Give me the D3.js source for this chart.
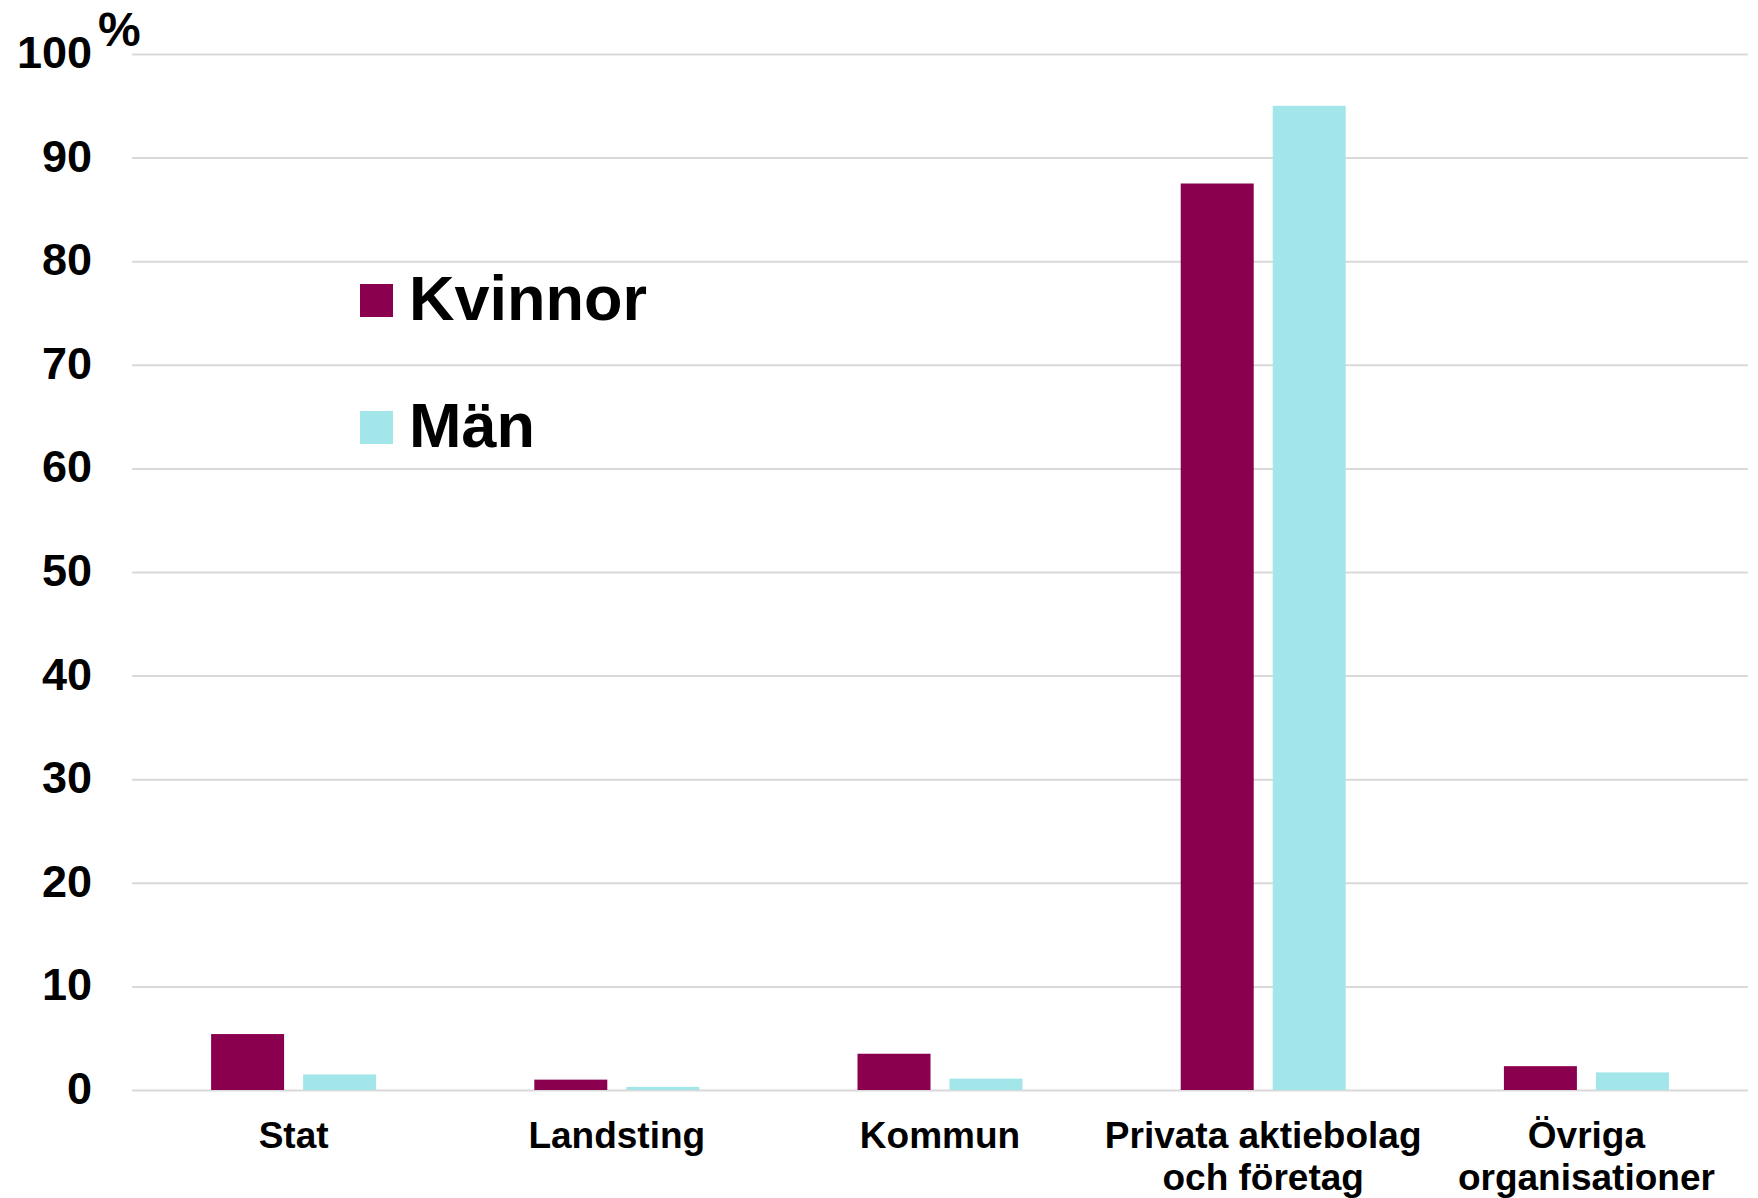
<!DOCTYPE html>
<html>
<head>
<meta charset="utf-8">
<script src="https://cdn.jsdelivr.net/npm/d3@7"></script>
<style>
  body { margin: 0; background: #fff; }
  text { font-family: "Liberation Sans", Arial, sans-serif; }
</style>
</head>
<body>
<div id="chart"></div>
<script>
// Data
var categories = ["Stat", "Landsting", "Kommun", "Privata aktiebolag\noch företag", "Övriga\norganisationer"];
var seriesNames = ["Kvinnor", "Män"];
var kvinnor = [5.4, 1.0, 3.5, 87.5, 2.3];
var man = [1.5, 0.3, 1.1, 95.0, 1.7];
var yTicks = [0, 10, 20, 30, 40, 50, 60, 70, 80, 90, 100];

var colors = ["#8a004f", "#a2e6e9"];

var svgWidth = 1758;
var svgHeight = 1198;

var margin = { top: 54, right: 10, bottom: 108, left: 132 };
var width = svgWidth - margin.left - margin.right;
var height = svgHeight - margin.top - margin.bottom;

var svg = d3.select("#chart")
  .append("svg")
  .attr("width", svgWidth)
  .attr("height", svgHeight);

var chartGroup = svg.append("g")
  .attr("transform", `translate(${margin.left}, ${margin.top})`);

// table for grouped bars
var rows = categories.map(function(c, i) {
  return { cat: c, values: [kvinnor[i], man[i]] };
});

// scales
var x0 = d3.scaleBand()
  .domain(categories)
  .range([0, width]);

var x1 = d3.scaleBand()
  .domain(seriesNames)
  .range([0, x0.bandwidth()])
  .paddingInner(0.2065)
  .paddingOuter(0.86);

var y = d3.scaleLinear()
  .domain([0, 100])
  .range([height, 0]);

// gridlines + y labels
var leftAxis = d3.axisLeft(y)
  .tickValues(yTicks)
  .tickSize(-width)
  .tickPadding(40);

var yAxisG = chartGroup.append("g").call(leftAxis);
yAxisG.select(".domain").remove();
yAxisG.selectAll(".tick line")
  .attr("stroke", "#d9d9d9")
  .attr("stroke-width", 2);
yAxisG.selectAll(".tick text")
  .attr("fill", "#000")
  .attr("font-size", "45px")
  .attr("font-weight", "bold")
  .attr("dy", "0.3em")
  .style("font-family", "'Liberation Sans', Arial, sans-serif");

// % unit
svg.append("text")
  .attr("x", 98)
  .attr("y", 46)
  .attr("font-size", "48px")
  .attr("font-weight", "bold")
  .attr("fill", "#000")
  .text("%");

// bars
var groups = chartGroup.selectAll(".cat")
  .data(rows)
  .enter()
  .append("g")
  .attr("class", "cat")
  .attr("transform", d => `translate(${x0(d.cat)}, 0)`);

groups.selectAll("rect")
  .data(d => d.values.map((v, i) => ({ key: seriesNames[i], value: v, i: i })))
  .enter()
  .append("rect")
  .attr("x", d => x1(d.key))
  .attr("y", d => y(d.value))
  .attr("width", x1.bandwidth())
  .attr("height", d => y(0) - y(d.value))
  .attr("fill", d => colors[d.i]);

// category labels (two lines where needed)
var catLabels = chartGroup.selectAll(".catlabel")
  .data(categories)
  .enter()
  .append("text")
  .attr("class", "catlabel")
  .attr("text-anchor", "middle")
  .attr("font-size", "37px")
  .attr("font-weight", "bold")
  .attr("fill", "#000")
  .attr("y", height + 58);

catLabels.each(function(d) {
  var t = d3.select(this);
  d.split("\n").forEach(function(line, i) {
    t.append("tspan")
      .attr("x", x0(d) + x0.bandwidth() / 2)
      .attr("dy", i === 0 ? 0 : 42)
      .text(line);
  });
});

// legend
var legend = svg.append("g")
  .attr("transform", "translate(360, 284)");

var legendItems = legend.selectAll("g")
  .data(seriesNames)
  .enter()
  .append("g")
  .attr("transform", (d, i) => `translate(0, ${i * 127})`);

legendItems.append("rect")
  .attr("width", 33)
  .attr("height", 33)
  .attr("fill", (d, i) => colors[i]);

legendItems.append("text")
  .attr("x", 49)
  .attr("y", 36)
  .attr("font-size", "63px")
  .attr("font-weight", "bold")
  .attr("fill", "#000")
  .text(d => d);
</script>
</body>
</html>
